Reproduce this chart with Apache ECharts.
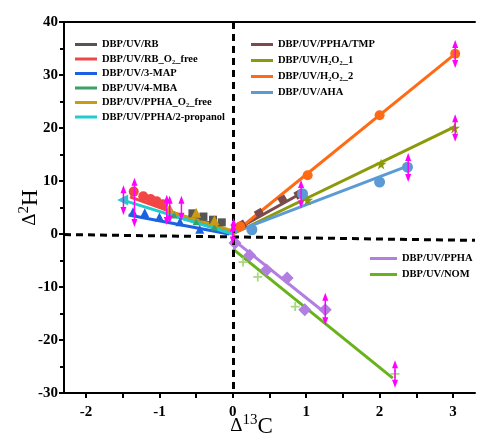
<!DOCTYPE html>
<html>
<head>
<meta charset="utf-8">
<script src="https://cdn.jsdelivr.net/npm/echarts@6/dist/echarts.min.js"></script>
<style>
  html, body { margin: 0; padding: 0; background: #fff; }
  #main { width: 484px; height: 440px; }
</style>
</head>
<body>
<div id="main"></div>
<script>
// points and fitted lines: [d13C, d2H]
var rbPts = [[-0.55, 3.9], [-0.4, 3.3], [-0.27, 2.7], [-0.15, 2.2]]
var rbFit = [[-0.6, 3.6], [0, 0.3]]
var rbO2Pts = [[-1.35, 8.0], [-1.22, 7.1], [-1.12, 6.6], [-1.04, 6.2], [-0.95, 5.6]]
var rbO2Fit = [[-1.4, 7.0], [0, 0]]
var mapPts = [[-1.36, 4.2], [-1.2, 4.0], [-1.0, 3.2], [-0.72, 2.3], [-0.45, 0.9]]
var mapFit = [[-1.42, 3.6], [-0.05, 0]]
var mbaPts = [[-0.8, 3.6], [-0.5, 2.3], [-0.25, 1.3]]
var mbaFit = [[-0.9, 3.8], [0, 0.2]]
var o2freePts = [[-0.86, 4.8], [-0.5, 4.0], [-0.25, 2.6]]
var o2freeFit = [[-0.9, 4.4], [0, 0.6]]
var propPts = [[-1.5, 6.4]]
var propFit = [[-1.5, 6.4], [0, 0]]

var tmpPts = [[0.12, 1.7], [0.36, 3.9], [0.68, 6.4], [0.9, 7.5]]
var tmpFit = [[0, 0.5], [0.92, 7.6]]
var h1Pts = [[1.02, 6.4], [2.02, 13.2], [3.02, 20.0]]
var h1Fit = [[0, 0], [3.02, 20.2]]
var h2Pts = [[0.1, 1.4], [1.02, 11.1], [2.0, 22.4], [3.03, 34.0]]
var h2Fit = [[0, 0], [3.03, 34.0]]
var ahaPts = [[0.26, 0.8], [0.95, 7.6], [2.0, 9.8], [2.38, 12.6]]
var ahaFit = [[0.03, 0.4], [2.38, 12.8]]

var pphaPts = [[0.03, -1.7], [0.23, -4.0], [0.46, -6.8], [0.74, -8.3], [0.98, -14.3], [1.26, -14.3]]
var pphaFit = [[0, -1.0], [1.26, -14.9]]
var nomPts = [[0.14, -5.3], [0.34, -8.1], [0.85, -13.7], [2.21, -26.4]]
var nomFit = [[0, -2.8], [2.18, -27.2]]

// error bars: [x, low, high]
var errBars = [
  [-1.49, 3.6, 9.2], [-1.34, 1.3, 10.6], [-0.9, 1.7, 7.4], [-0.86, 2.0, 7.2],
  [-0.7, 2.5, 7.2], [0, -2.0, 2.0], [0.01, 0.3, 3.0], [0.93, 4.8, 10.2],
  [2.39, 9.8, 15.3], [3.03, 17.4, 22.6], [3.03, 31.3, 36.6],
  [1.26, -17.2, -11.1], [2.21, -29.0, -23.8]
]

var xLabels = [-2, -1, 0, 1, 2, 3]
var xTicks = [-2, -1.5, -1, -0.5, 0, 0.5, 1, 1.5, 2, 2.5, 3]

var FONT = 'Liberation Serif'
var starPath = 'path://M50,0L61,35L98,35L68,57L79,91L50,70L21,91L32,57L2,35L39,35Z'
var plusPath = 'path://M4,0H6V4H10V6H6V10H4V6H0V4H4Z'

// one entry per series: name, color, points, fit, symbol
var groups = [
  {name: 'DBP/UV/RB', color: '#555555', pts: rbPts, fit: rbFit, sym: 'rect', size: 8},
  {name: 'DBP/UV/RB_O₂_free', color: '#f24545', pts: rbO2Pts, fit: rbO2Fit, sym: 'circle', size: 10},
  {name: 'DBP/UV/3-MAP', color: '#1c62e0', pts: mapPts, fit: mapFit, sym: 'triangle', size: 9},
  {name: 'DBP/UV/4-MBA', color: '#3aa066', pts: mbaPts, fit: mbaFit, sym: 'triangle', size: 7},
  {name: 'DBP/UV/PPHA_O₂_free', color: '#c99a12', pts: o2freePts, fit: o2freeFit, sym: 'triangle', size: 10},
  {name: 'DBP/UV/PPHA/2-propanol', color: '#22cccc', pts: propPts, fit: propFit, sym: 'triangle', size: 11, rot: 90},
  {name: 'DBP/UV/PPHA/TMP', color: '#7b4b4b', pts: tmpPts, fit: tmpFit, sym: 'rect', size: 8, rot: 30},
  {name: 'DBP/UV/H₂O₂_1', color: '#8c9a0a', pts: h1Pts, fit: h1Fit, sym: starPath, size: 11},
  {name: 'DBP/UV/H₂O₂_2', color: '#ff6a14', pts: h2Pts, fit: h2Fit, sym: 'circle', size: 10},
  {name: 'DBP/UV/AHA', color: '#5b9bd5', pts: ahaPts, fit: ahaFit, sym: 'circle', size: 11},
  {name: 'DBP/UV/PPHA', color: '#b07fe0', pts: pphaPts, fit: pphaFit, sym: 'diamond', size: 13},
  {name: 'DBP/UV/NOM', color: '#66b31a', pts: nomPts, fit: nomFit, sym: plusPath, size: 9, ptColor: '#a8d884'}
]

var series = []
groups.forEach(function (g) {
  series.push({
    name: g.name, type: 'line', data: g.fit, showSymbol: false, z: 3,
    lineStyle: {color: g.color, width: 3}, itemStyle: {color: g.color}
  })
})
groups.forEach(function (g) {
  series.push({
    name: g.name, type: 'scatter', data: g.pts, symbol: g.sym, symbolSize: g.size,
    symbolRotate: g.rot || 0, z: 4,
    itemStyle: {color: g.ptColor || g.color, opacity: 1}
  })
})

// error bars drawn as double arrows
series.push({
  type: 'custom', data: errBars, z: 5, silent: true,
  renderItem: function (params, api) {
    var top = api.coord([api.value(0), api.value(2)])
    var bot = api.coord([api.value(0), api.value(1)])
    var c = '#ff00ff'
    return {
      type: 'group',
      children: [
        {type: 'line', shape: {x1: top[0], y1: top[1] + 4, x2: bot[0], y2: bot[1] - 4}, style: {stroke: c, lineWidth: 1.5}},
        {type: 'polygon', shape: {points: [[top[0], top[1]], [top[0] - 3, top[1] + 8], [top[0] + 3, top[1] + 8]]}, style: {fill: c}},
        {type: 'polygon', shape: {points: [[bot[0], bot[1]], [bot[0] - 3, bot[1] - 8], [bot[0] + 3, bot[1] - 8]]}, style: {fill: c}}
      ]
    }
  }
})

// zero lines
series.push({
  type: 'line', data: [], silent: true,
  markLine: {
    silent: true, symbol: 'none', animation: false, label: {show: false},
    lineStyle: {color: '#000', type: [7, 5], width: 3},
    data: [
      [{coord: [0, 40]}, {coord: [0, -30]}],
      [{coord: [-2.3, -0.1]}, {coord: [3.3, -1.2]}]
    ]
  }
})

var legendText = {fontFamily: FONT, fontWeight: 'bold', fontSize: 10.5, color: '#000'}
function leg(names, left, top, gap, w) {
  return {
    data: names, left: left, top: top, orient: 'vertical', itemGap: gap,
    icon: 'rect', itemWidth: w, itemHeight: 3, textStyle: legendText,
    selectedMode: false, z: 10
  }
}

var axisNameRich = {
  d: {fontFamily: FONT, fontSize: 19, color: '#000', padding: [6, 0, 0, 0]},
  s: {fontFamily: FONT, fontSize: 15, color: '#000', padding: [0, 0, 6, 0]},
  c: {fontFamily: FONT, fontSize: 23, color: '#000', padding: [6, 0, 0, 0]}
}

var chart = echarts.init(document.getElementById('main'))
chart.setOption({
  animation: false,
  backgroundColor: '#fff',
  grid: {left: 64, right: 9, top: 22, bottom: 47, outerBoundsMode: 'none', containLabel: false},
  legend: [
    leg(groups.slice(0, 6).map(function (g) { return g.name }), 70, 34, 3.5, 22),
    leg(groups.slice(6, 10).map(function (g) { return g.name }), 246, 34, 5, 22),
    leg(groups.slice(10).map(function (g) { return g.name }), 365, 248, 5, 27)
  ],
  xAxis: [{
    type: 'value', min: -2.3, max: 3.3,
    name: '{d|Δ}{s|13}{c|C}', nameLocation: 'middle', nameGap: 16, nameMoveOverlap: false,
    nameTextStyle: {padding: [0, 36, 0, 0], rich: axisNameRich},
    splitLine: {show: false},
    axisLine: {onZero: false, lineStyle: {color: '#000', width: 2}},
    axisTick: {show: true, inside: false, length: 5, lineStyle: {color: '#000', width: 2}, customValues: xTicks},
    axisLabel: {customValues: xLabels, fontFamily: FONT, fontWeight: 'bold', fontSize: 15, color: '#000', margin: 12}
  }, {
    type: 'value', min: -2.3, max: 3.3, position: 'top',
    axisLine: {show: true, onZero: false, lineStyle: {color: '#000', width: 2}},
    axisTick: {show: false}, axisLabel: {show: false}, splitLine: {show: false}
  }],
  yAxis: {
    type: 'value', min: -30, max: 40, interval: 10,
    name: '{d|Δ}{s|2}{c|H}', nameLocation: 'middle', nameGap: 22, nameRotate: 90, nameMoveOverlap: false,
    nameTextStyle: {rich: axisNameRich},
    splitLine: {show: false},
    axisLine: {onZero: false, lineStyle: {color: '#000', width: 2}},
    axisTick: {show: true, inside: false, length: 5, lineStyle: {color: '#000', width: 2}},
    minorTick: {show: true, splitNumber: 2, length: 4, lineStyle: {color: '#000', width: 2}},
    axisLabel: {fontFamily: FONT, fontWeight: 'bold', fontSize: 15, color: '#000', margin: 6}
  },
  series: series
})
</script>
</body>
</html>
